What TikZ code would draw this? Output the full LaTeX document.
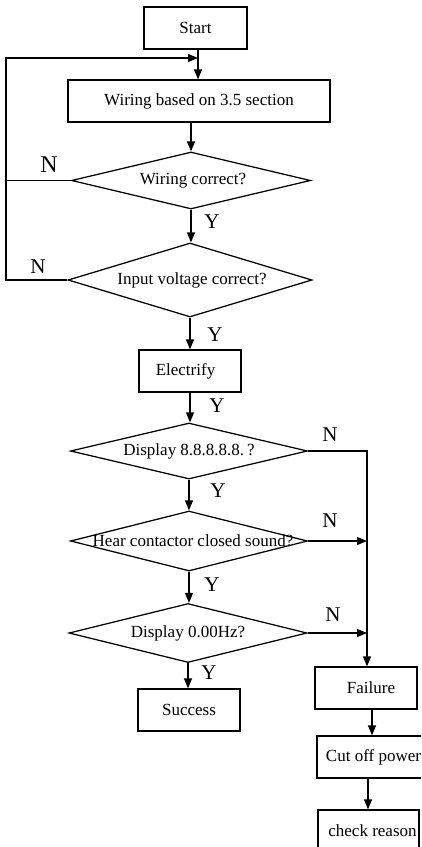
\documentclass[tikz,border=0pt]{standalone}
\usepackage{fontspec}
\setmainfont{Liberation Serif}
\usetikzlibrary{shapes.geometric,arrows.meta}
\begin{document}
\begin{tikzpicture}[x=1pt,y=-1pt,
  line width=1.25pt,
  txt/.style={font=\fontsize{17}{20}\selectfont},
  lbl/.style={font=\fontsize{21}{24}\selectfont, inner sep=0pt},
  box/.style={draw, rectangle, txt, minimum height=42pt, inner sep=0pt},
  dia/.style={draw, diamond, txt, inner sep=0pt},
  arr/.style={-{Triangle[length=10pt,width=8pt]}}]
\useasboundingbox (0,0) rectangle (421,847);
\clip (0,0) rectangle (421,847);
% nodes
\node[box, minimum width=103pt] (start) at (195.5,28) {Start};
\node[box, minimum width=262pt] (wire) at (199,101) {Wiring based on 3.5 section};
\node[dia, minimum width=239pt, minimum height=57pt] (d1) at (191,180.5) {\makebox[0pt]{\hspace*{4pt}Wiring correct?}};
\node[dia, minimum width=244pt, minimum height=74pt] (d2) at (190,280) {\makebox[0pt]{\hspace*{4pt}Input voltage correct?}};
\node[box, minimum width=102pt] (elec) at (190,371) {Electrify\hspace*{9pt}};
\node[dia, minimum width=237pt, minimum height=56pt] (d3) at (189,451) {\makebox[0pt]{Display 8.8.8.8.8.\,?}};
\node[dia, minimum width=237pt, minimum height=60pt] (d4) at (189,541) {\makebox[0pt]{\hspace*{8pt}Hear contactor closed sound?}};
\node[dia, minimum width=238pt, minimum height=59pt] (d5) at (188,633) {\makebox[0pt]{Display 0.00Hz?}};
\node[box, minimum width=102pt] (succ) at (189,710) {Success};
\node[box, minimum width=102pt] (fail) at (366,688) {\hspace*{10pt}Failure};
\node[box, minimum width=113pt] (cut) at (373.5,757) {Cut off power};
\node[box, minimum width=101pt] (check) at (368.5,831) {\hspace*{8pt}check reason};
% helper coordinates
\coordinate (j1) at (198,58);
\coordinate (lft) at (6,280);
\coordinate (rgt) at (367,451);
% connectors
\draw[arr] (start.south -| j1) -- (wire.north -| j1);
\draw[arr] (wire.south -| d1.north) -- (d1.north);
\draw (d1.west) -- (d1.west -| lft);
\draw[arr] (d2.west) -- (lft) |- (j1);
\draw[arr] (d1.south) -- (d1.south |- d2.north);
\draw[arr] (d2.south) -- (d2.south |- elec.north);
\draw[arr] (elec.south) -- (elec.south |- d3.north);
\draw[arr] (d3.south) -- (d3.south |- d4.north);
\draw[arr] (d4.south) -- (d4.south |- d5.north);
\draw[arr] (d5.south) -- (d5.south |- succ.north);
\draw[arr] (d3.east) -- (rgt) -- (rgt |- fail.north);
\draw[arr] (d4.east) -- (d4.east -| rgt);
\draw[arr] (d5.east) -- (d5.east -| rgt);
\draw[arr] ([xshift=6pt]fail.south) -- ([xshift=6pt]fail.south |- cut.north);
\draw[arr] ([xshift=-5.5pt]cut.south) -- ([xshift=-5.5pt]cut.south |- check.north);
% labels
\node[lbl, font=\fontsize{24}{28}\selectfont] (n1) at (49,165) {N};
\node[lbl] (n2) at (38,267) {N};
\node[lbl] (y1) at (212,222) {Y};
\node[lbl] (y2) at (215,335) {Y};
\node[lbl] (y3) at (217,406) {Y};
\node[lbl] (n3) at (330,435) {N};
\node[lbl] (y4) at (218,491) {Y};
\node[lbl] (n4) at (330,521) {N};
\node[lbl] (y5) at (212,585) {Y};
\node[lbl] (n5) at (333,615) {N};
\node[lbl] (y6) at (209,673) {Y};
\end{tikzpicture}
\end{document}
